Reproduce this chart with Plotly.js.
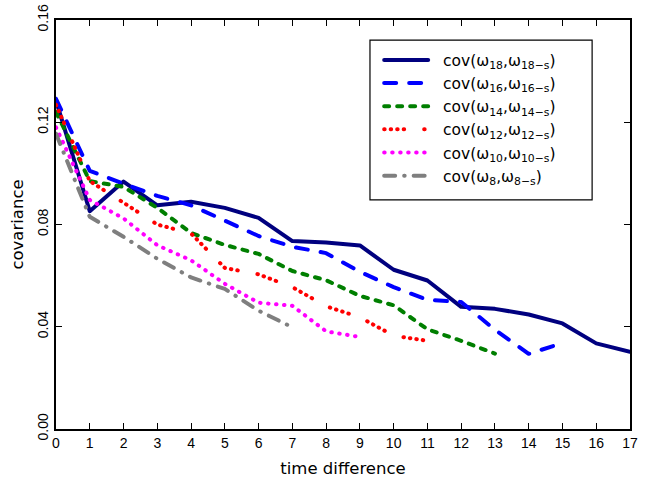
<!DOCTYPE html>
<html>
<head>
<meta charset="utf-8">
<script src="https://cdn.plot.ly/plotly-3.0.1.min.js"></script>
<style>
html,body{margin:0;padding:0;background:#fff;}
.scatterlayer path.js-line, .legend path.js-line { stroke-linecap: round; stroke-linejoin: round; }
</style>
</head>
<body>
<div id="chart" style="width:652px;height:485px;"></div>
<script>
// time differences
const timeLags = [0,1,2,3,4,5,6,7,8,9,10,11,12,13,14,15,16,17];

// covariance series
const cov18 = [0.1285,0.0852,0.0968,0.0875,0.0889,0.0865,0.0826,0.0735,0.0730,0.0718,0.0623,0.0581,0.0478,0.0470,0.0448,0.0413,0.0335,0.0302];
const cov16 = [0.1292,0.1010,0.0960,0.0912,0.0875,0.0815,0.0755,0.0713,0.0688,0.0615,0.0555,0.0505,0.0497,0.0388,0.0294,0.0336];
const cov14 = [0.1240,0.0970,0.0947,0.0865,0.0767,0.0720,0.0685,0.0618,0.0582,0.0521,0.0484,0.0390,0.0345,0.0295];
const cov12 = [0.1268,0.0970,0.0885,0.0800,0.0765,0.0630,0.0605,0.0555,0.0480,0.0437,0.0365,0.0345];
const cov10 = [0.1180,0.0896,0.0824,0.0719,0.0660,0.0568,0.0494,0.0482,0.0382,0.0360];
const cov8  = [0.1155,0.0830,0.0752,0.0666,0.0593,0.0548,0.0463,0.0398];

const seriesNames = [
  'cov(ω<sub>18</sub>,ω<sub>18−s</sub>)',
  'cov(ω<sub>16</sub>,ω<sub>16−s</sub>)',
  'cov(ω<sub>14</sub>,ω<sub>14−s</sub>)',
  'cov(ω<sub>12</sub>,ω<sub>12−s</sub>)',
  'cov(ω<sub>10</sub>,ω<sub>10−s</sub>)',
  'cov(ω<sub>8</sub>,ω<sub>8−s</sub>)'
];
const seriesValues = [cov18, cov16, cov14, cov12, cov10, cov8];
const seriesColors = ['#00007f','#0000ff','#007f00','#ff0000','#ff00ff','#7f7f7f'];
const seriesDash = [
  'solid',
  '12px,13px',
  '5px,8px',
  '0.5px,6px,0.5px,6px,0.5px,6px,0.5px,20px',
  '0.5px,7.5px',
  '11px,9px,0.5px,9px'
];
const seriesWidth = [4,4,4,4,4,4];

const traces = seriesValues.map((vals, i) => ({
  type: 'scatter',
  mode: 'lines',
  x: timeLags.slice(0, vals.length),
  y: vals,
  name: '\u00a0\u00a0' + seriesNames[i],
  line: {color: seriesColors[i], width: seriesWidth[i], dash: seriesDash[i]}
}));

const tickFont = {family: 'Liberation Sans, Arial, sans-serif', size: 14, color: '#000'};
const titleFont = {family: 'DejaVu Sans, sans-serif', size: 16.5, color: '#000'};

const layout = {
  width: 652, height: 485,
  margin: {l: 56, r: 22, t: 20, b: 56},
  paper_bgcolor: '#fff', plot_bgcolor: '#fff',
  showlegend: true,
  legend: {
    x: 0.563, y: 0.943, xanchor: 'left', yanchor: 'top',
    borderwidth: 0, bgcolor: 'rgba(0,0,0,0)',
    itemwidth: 44,
    font: {family: 'DejaVu Sans, sans-serif', size: 15.5, color: '#000'},
    tracegroupgap: 0
  },
  shapes: [{
    type: 'rect', xref: 'paper', yref: 'paper',
    x0: 0.547, x1: 0.934, y0: 0.560, y1: 0.951,
    line: {color: '#000', width: 1.2}, fillcolor: 'rgba(0,0,0,0)', layer: 'above'
  }],
  xaxis: {
    range: [0, 17], dtick: 1, tick0: 0,
    ticks: 'inside', ticklen: 6, tickwidth: 1, tickcolor: '#000',
    showline: true, linewidth: 2, linecolor: '#000', mirror: 'ticks',
    showgrid: false, zeroline: false,
    tickfont: tickFont,
    title: {text: 'time difference', font: titleFont, standoff: 13}
  },
  yaxis: {
    range: [0, 0.16], dtick: 0.04, tick0: 0, tickformat: '.2f',
    tickangle: -90,
    ticks: 'inside', ticklen: 6, tickwidth: 1, tickcolor: '#000',
    showline: true, linewidth: 2, linecolor: '#000', mirror: 'ticks',
    showgrid: false, zeroline: false,
    tickfont: tickFont,
    title: {text: 'covariance', font: titleFont, standoff: 8}
  }
};

Plotly.newPlot('chart', traces, layout, {staticPlot: true, displayModeBar: false});
</script>
</body>
</html>
